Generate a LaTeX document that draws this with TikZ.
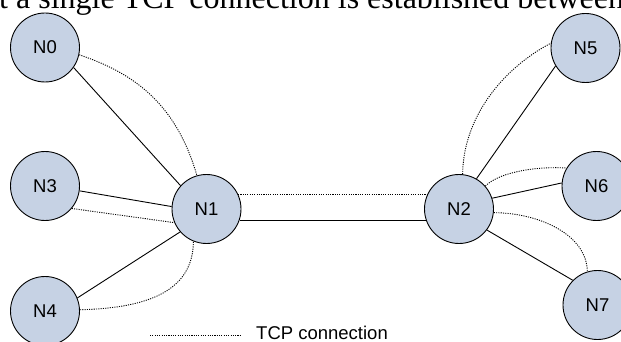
\documentclass[tikz,border=0pt]{standalone}
\usepackage{fontspec}
\setmainfont{Liberation Serif}
\newfontfamily\labelfont{Liberation Sans}
\definecolor{hostfill}{HTML}{C6D2E4}
\begin{document}
\begin{tikzpicture}[x=1pt,y=-1pt,
  host/.style={circle,draw=black,line width=0.9pt,fill=hostfill,minimum size=69pt,
    inner sep=0pt,font=\labelfont\fontsize{18.5}{20}\selectfont},
  link/.style={draw=black,line width=0.9pt},
  tcp/.style={draw=black,line width=0.9pt,dash pattern=on 1.1pt off 1.2pt}]
\useasboundingbox (0,0) rectangle (621,342);
\clip (0,0) rectangle (621,342);

% running text line above the figure
\node[anchor=base west,inner sep=0pt,font=\fontsize{32}{36}\selectfont] (caption) at (-1,9)
  {t a single TCP connection is established between};

% hosts
\node[host] (N0) at (45,47.5) {N0};
\node[host] (N3) at (45,186) {N3};
\node[host] (N4) at (45,311) {N4};
\node[host] (N1) at (206.5,209) {N1};
\node[host] (N2) at (459,209) {N2};
\node[host] (N5) at (585.5,48) {N5};
\node[host] (N6) at (596.5,186) {N6};
\node[host] (N7) at (597.5,305) {N7};

% physical links
\draw[link] (N0.-35) -- (N1.138);
\draw[link] (N3.-8) -- (N1.176);
\draw[link] (N4.22) -- (N1.-139);
\draw[link] (N1.-19) -- (N2.-161);
\draw[link] (N2.60) -- (N5.-149);
\draw[link] (N2.18) -- (N6.175);
\draw[link] (N2.-37) -- (N7.135);

% TCP connections
\draw[tcp] (N0.-12) .. controls (130,72) and (175,100) .. (N1.106);
\draw[tcp] (N3.-40) -- (N1.-157);
\draw[tcp] (N4.2) .. controls (150,308) and (193,290) .. (N1.-112);
\draw[tcp] (N1.25) -- (N2.155);
\draw[tcp] (N2.84) .. controls (463,120) and (500,70) .. (N5.172);
\draw[tcp] (N2.41) .. controls (497,174) and (530,166) .. (N6.149);
\draw[tcp] (N2.-6) .. controls (540,213) and (587,235) .. (N7.107);

% legend
\coordinate (legA) at (150,335);
\coordinate (legB) at (240,335);
\draw[tcp] (legA) -- (legB);
\node[anchor=base west,inner sep=0pt,font=\labelfont\fontsize{18.5}{20}\selectfont]
  (legtext) at (256,339) {TCP connection};
\end{tikzpicture}
\end{document}
